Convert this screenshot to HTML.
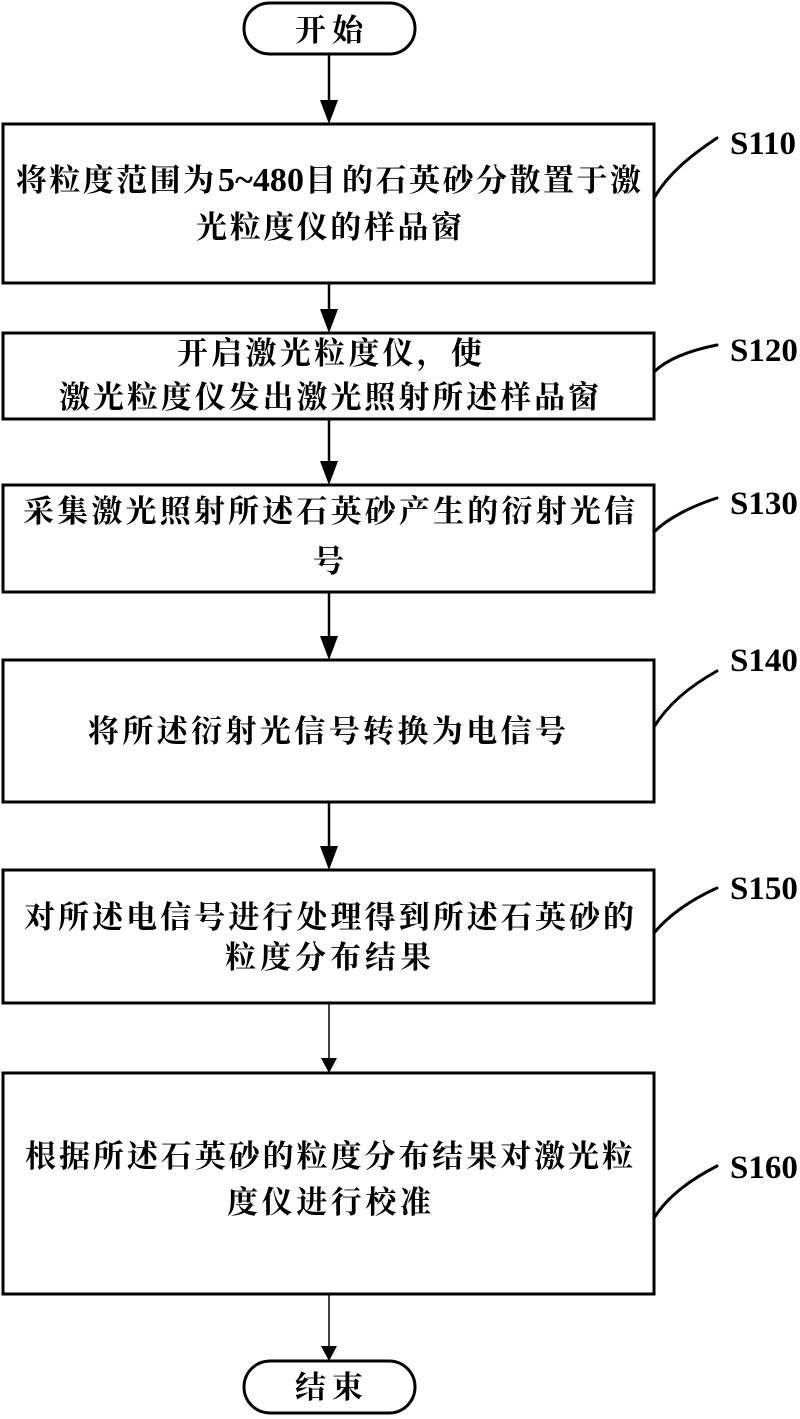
<!DOCTYPE html>
<html lang="zh">
<head>
<meta charset="utf-8">
<style>
html,body{margin:0;padding:0;background:#fff}
svg{display:block}
text{font-family:"Liberation Serif","Noto Serif CJK SC",serif;font-size:31px;font-weight:700;fill:#000}
.n{font-size:34px}
.s{font-size:33px;font-weight:700}
</style>
</head>
<body>
<svg width="800" height="1419" viewBox="0 0 800 1419" xmlns="http://www.w3.org/2000/svg">
<g fill="none" stroke="#000" stroke-width="3">
<rect x="244" y="3" width="171" height="51" rx="25.5"/>
<rect x="3" y="124" width="651" height="159"/>
<rect x="3" y="333" width="651" height="86"/>
<rect x="3" y="485" width="651" height="107"/>
<rect x="3" y="660" width="651" height="142"/>
<rect x="3" y="870" width="651" height="133"/>
<rect x="3" y="1073" width="651" height="221"/>
<rect x="244" y="1361" width="171" height="52" rx="26"/>
</g>
<g fill="none" stroke="#000">
<path stroke-width="2.5" d="M329 55V102M329 284V316M329 420V468M329 593V643M329 803V850"/>
<path stroke-width="1.5" d="M329 1004V1060M329 1295V1348"/>
</g>
<g fill="#000">
<path d="M320 100H338L329 124Z"/>
<path d="M320 309H338L329 333Z"/>
<path d="M320 461H338L329 485Z"/>
<path d="M320 636H338L329 660Z"/>
<path d="M320 846H338L329 870Z"/>
<path d="M321 1058H337L329 1073Z"/>
<path d="M321 1346H337L329 1361Z"/>
</g>
<g fill="none" stroke="#000" stroke-width="3" stroke-linecap="round">
<path d="M654 198C668 174 690 156 717 138"/>
<path d="M654 372C668 358 692 350 717 345"/>
<path d="M654 532C668 518 692 506 717 498"/>
<path d="M654 727C668 704 690 686 717 671"/>
<path d="M654 933C668 916 690 900 717 888"/>
<path d="M654 1218C668 1196 690 1180 717 1166"/>
</g>
<text x="295" y="41" textLength="68">开始</text>
<text x="16" y="191" textLength="198">将粒度范围为</text>
<text class="n" x="218" y="191" textLength="86">5~480</text>
<text x="305" y="191">目</text>
<text x="342" y="191" textLength="299">的石英砂分散置于激</text>
<text x="196" y="238" textLength="266">光粒度仪的样品窗</text>
<text x="177" y="364" textLength="305">开启激光粒度仪，使</text>
<text x="59" y="408" textLength="540">激光粒度仪发出激光照射所述样品窗</text>
<text x="23" y="522" textLength="612">采集激光照射所述石英砂产生的衍射光信</text>
<text x="313" y="572">号</text>
<text x="88" y="742" textLength="478">将所述衍射光信号转换为电信号</text>
<text x="24" y="928" textLength="610">对所述电信号进行处理得到所述石英砂的</text>
<text x="225" y="968" textLength="206">粒度分布结果</text>
<text x="25" y="1167" textLength="608">根据所述石英砂的粒度分布结果对激光粒</text>
<text x="227" y="1213" textLength="204">度仪进行校准</text>
<text x="295" y="1398" textLength="68">结束</text>
<text class="s" x="730" y="154">S110</text>
<text class="s" x="730" y="361">S120</text>
<text class="s" x="730" y="514">S130</text>
<text class="s" x="730" y="671">S140</text>
<text class="s" x="730" y="899">S150</text>
<text class="s" x="730" y="1178">S160</text>
</svg>
</body>
</html>
